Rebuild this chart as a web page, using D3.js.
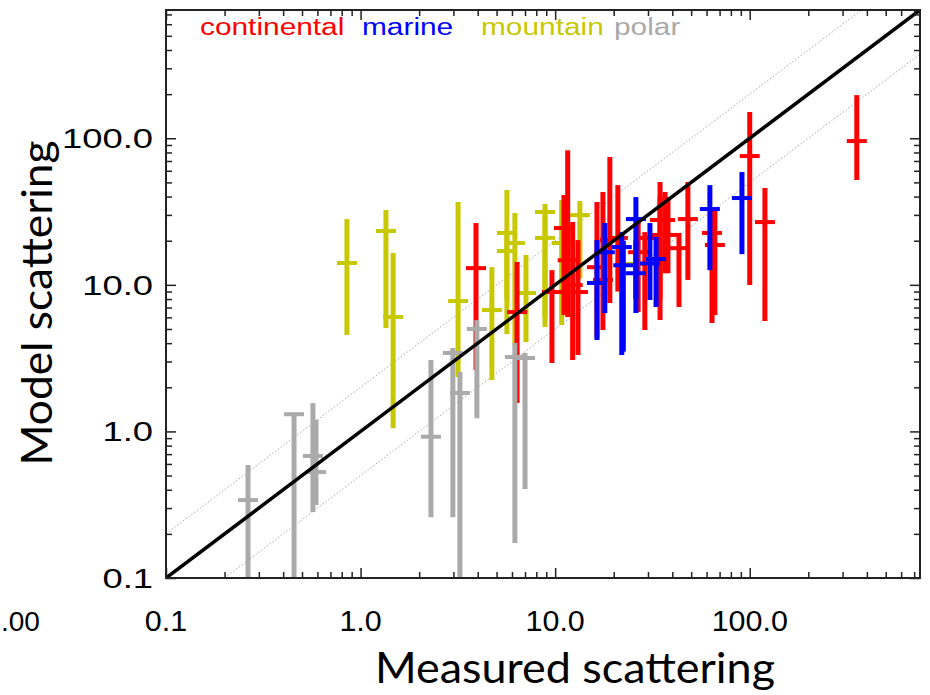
<!DOCTYPE html>
<html><head><meta charset="utf-8">
<script src="https://cdn.jsdelivr.net/npm/d3@7"></script>
<style>body{margin:0;background:#fff}svg{display:block}</style>
</head><body>
<script>
// ---------- data ----------
const categories = ["continental", "marine", "mountain", "polar"];
const categoryColors = ["#ff0000", "#0000ff", "#c8c800", "#aaaaaa"];
const majorTicks = [0.1, 1, 10, 100];
const tickLabels = ["0.1", "1.0", "10.0", "100.0"];
// each row: [measured, model, model low, model high]
const continental = [
  [3.92, 13.0, 2.62, 26.4], [6.37, 6.52, 1.56, 14.3], [9.63, 8.93, 2.93, 12.6],
  [11.1, 24.4, 6.22, 41.0], [11.6, 14.7, 6.03, 83.0], [12.3, 9.97, 3.07, 26.8],
  [13.1, 8.93, 3.32, 20.2], [16.4, 13.2, 4.34, 36.7], [17.6, 10.8, 4.92, 43.0],
  [19.1, 20.2, 7.51, 74.5], [21.0, 20.9, 9.0, 47.9], [26.7, 16.7, 6.52, 28.6],
  [28.9, 20.9, 4.92, 22.9], [34.6, 27.7, 5.75, 50.3], [34.6, 21.9, 8.0, 40.0],
  [36.7, 27.7, 12.0, 43.0], [38.0, 21.9, 12.0, 39.7], [43.3, 17.8, 7.06, 22.6],
  [48.1, 28.1, 10.8, 50.3], [64.0, 22.6, 5.49, 32.4], [66.2, 18.7, 6.22, 32.4],
  [100, 75.6, 9.97, 151], [119.7, 26.8, 5.66, 45.7], [355, 95.7, 51.9, 197]
];
const marine = [
  [16.4, 10.3, 4.20, 20.2], [18.0, 16.7, 6.42, 26.4], [22.0, 18.1, 3.32, 22.9],
  [22.4, 13.6, 3.5, 20.0], [26.0, 28.1, 6.42, 39.7], [26.0, 12.0, 8.0, 20.0],
  [30.7, 14.0, 7.88, 26.4], [33.0, 15.0, 7.06, 21.2], [62.4, 32.9, 12.6, 47.9],
  [91.2, 39.1, 16.2, 58.8]
];
const mountain = [
  [0.851, 14.1, 4.55, 28.1], [1.35, 23.3, 5.07, 32.4], [1.47, 6.03, 1.05, 16.5],
  [3.17, 7.75, 2.35, 36.7], [4.73, 6.73, 2.24, 13.2], [5.65, 22.6, 4.62, 44.3],
  [5.65, 17.0, 8.0, 22.0], [6.21, 19.3, 3.88, 30.9], [7.08, 8.79, 4.07, 16.0],
  [8.87, 31.4, 5.15, 35.6], [8.87, 20.9, 6.0, 30.0], [10.8, 19.3, 5.32, 37.9],
  [13.4, 29.9, 11.1, 37.3], [26.0, 13.9, 11.0, 17.0]
];
const polar = [
  [0.264, 0.34, 0.05, 0.59], [0.455, 1.31, 0.05, 1.32], [0.569, 0.68, 0.282, 1.56],
  [0.59, 0.528, 0.315, 1.20], [2.30, 0.92, 0.26, 3.07], [2.98, 3.43, 0.26, 3.71],
  [3.24, 1.83, 0.05, 2.54], [3.96, 5.0, 1.23, 5.75], [6.21, 3.22, 0.173, 4.01],
  [7.0, 3.17, 0.405, 3.43]
];
const seriesData = [continental, marine, mountain, polar];
const drawOrder = [2, 0, 1, 3]; // mountain, continental, marine, polar

// ---------- layout ----------
const W = 930, H = 695;
const L = 166, R = 920, T = 10, B = 578;
const domain = [0.1, 750];
const x = d3.scaleLog().domain(domain).range([L, R]);
const y = d3.scaleLog().domain(domain).range([B, T]);

const minorTicks = [];
majorTicks.forEach(d => { for (let k = 2; k <= 9; k++) { const v = d * k; if (v < domain[1]) minorTicks.push(v); } });

const svg = d3.select("body").append("svg").attr("width", W).attr("height", H);
svg.append("defs").append("clipPath").attr("id", "clip")
  .append("rect").attr("x", L).attr("y", T).attr("width", R - L).attr("height", B - T);

const plot = svg.append("g").attr("clip-path", "url(#clip)");

// reference lines
const lineGen = d3.line().x(d => x(d[0])).y(d => y(d[1]));
const refX = [0.05, 1000];
[2, 0.5].forEach(f => {
  plot.append("path").datum(refX.map(v => [v, v * f])).attr("d", lineGen)
    .attr("fill", "none").attr("stroke", "#a8a8a8").attr("stroke-width", 1)
    .attr("stroke-dasharray", "1.5,2");
});

// error bars
drawOrder.forEach(si => {
  const g = plot.append("g");
  const col = categoryColors[si];
  g.selectAll("line.v").data(seriesData[si]).join("line")
    .attr("x1", d => x(d[0])).attr("x2", d => x(d[0]))
    .attr("y1", d => y(d[2])).attr("y2", d => y(d[3]))
    .attr("stroke", col).attr("stroke-width", 5);
  g.selectAll("line.h").data(seriesData[si]).join("line")
    .attr("x1", d => x(d[0]) - 10).attr("x2", d => x(d[0]) + 10)
    .attr("y1", d => y(d[1])).attr("y2", d => y(d[1]))
    .attr("stroke", col).attr("stroke-width", 4);
});

// 1:1 line
plot.append("path").datum([[0.1, 0.1], [1000, 1000]]).attr("d", lineGen)
  .attr("fill", "none").attr("stroke", "#000").attr("stroke-width", 3.5);

// axes (ticks inward on all sides)
function addAxis(gen, tx, ty, vals, size) {
  const a = svg.append("g").attr("transform", `translate(${tx},${ty})`)
    .call(gen.tickValues(vals).tickSize(size).tickSizeOuter(0).tickFormat(""));
  a.select(".domain").remove();
  a.selectAll("line").attr("stroke", "#222").attr("stroke-width", 1.5);
}
addAxis(d3.axisBottom(x), 0, B, majorTicks, -10);
addAxis(d3.axisBottom(x), 0, B, minorTicks, -6);
addAxis(d3.axisTop(x), 0, T, majorTicks, -10);
addAxis(d3.axisTop(x), 0, T, minorTicks, -6);
addAxis(d3.axisLeft(y), L, 0, majorTicks, -10);
addAxis(d3.axisLeft(y), L, 0, minorTicks, -6);
addAxis(d3.axisRight(y), R, 0, majorTicks, -10);
addAxis(d3.axisRight(y), R, 0, minorTicks, -6);

svg.append("rect").attr("x", L).attr("y", T).attr("width", R - L).attr("height", B - T)
  .attr("fill", "none").attr("stroke", "#222").attr("stroke-width", 2);

// tick labels
const tickFont = "'Liberation Sans', Arial, Helvetica, sans-serif";
function sText(tx, ty, str, size, sx, anchor, color) {
  svg.append("text").attr("transform", `translate(${tx},${ty}) scale(${sx},1)`)
    .attr("text-anchor", anchor).attr("font-family", tickFont)
    .attr("font-size", size).attr("fill", color || "#000").text(str);
}
majorTicks.forEach((v, i) => sText(x(v), 631, tickLabels[i], 29, 1.05, "middle"));
majorTicks.forEach((v, i) => sText(153, y(v) + 10, tickLabels[i], 28, 1.3, "end"));
sText(1, 631, ".00", 28, 1.0, "start");

// legend
const legendX = [200, 362, 481, 614];
categories.forEach((c, i) => sText(legendX[i], 35, c, 23.5, 1.27, "start", categoryColors[i]));

// axis titles
svg.append("text").attr("x", 575).attr("y", 683).attr("text-anchor", "middle")
  .attr("font-family", "Lato, 'Open Sans', sans-serif").attr("font-size", 42)
  .attr("textLength", 400).attr("lengthAdjust", "spacingAndGlyphs")
  .text("Measured scattering");
svg.append("text").attr("transform", "translate(52,303) rotate(-90)").attr("text-anchor", "middle")
  .attr("font-family", "Lato, 'Open Sans', sans-serif").attr("font-size", 42)
  .attr("textLength", 325).attr("lengthAdjust", "spacingAndGlyphs")
  .text("Model scattering");
</script>
</body></html>
